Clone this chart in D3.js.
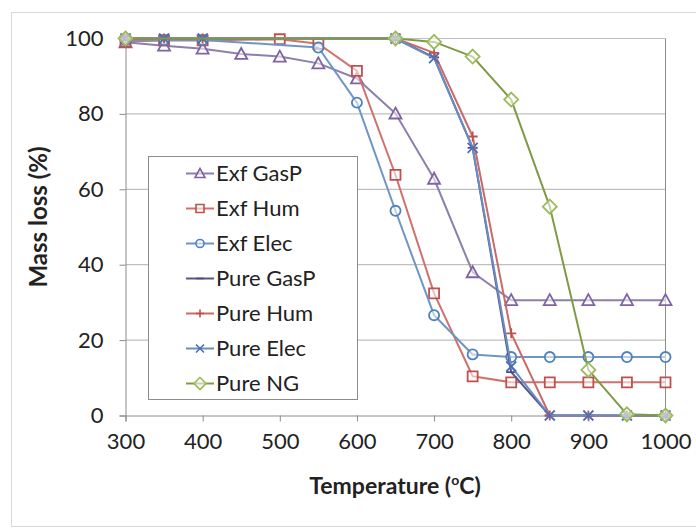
<!DOCTYPE html>
<html>
<head>
<meta charset="utf-8">
<script src="https://cdn.jsdelivr.net/npm/d3@7/dist/d3.min.js"></script>
<style>
  body { margin: 0; background: #fff; }
  svg { display: block; font-family: Lato, "Open Sans", sans-serif; }
</style>
</head>
<body>
<svg width="696" height="532"></svg>
<script>
// series data (temperature in °C, mass loss in %)
const exfGasP_t = [300, 350, 400, 450, 500, 550, 600, 650, 700, 750, 800, 850, 900, 950, 1000];
const exfGasP_v = [99, 98.1, 97.3, 95.9, 95.2, 93.4, 89.4, 80.1, 62.8, 38, 30.6, 30.6, 30.6, 30.6, 30.6];

const exfHum_t = [300, 350, 400, 500, 550, 600, 650, 700, 750, 800, 850, 900, 950, 1000];
const exfHum_v = [99.2, 99.5, 99.5, 99.8, 98.6, 91.4, 63.8, 32.4, 10.4, 8.8, 8.8, 8.8, 8.8, 8.8];

const exfElec_t = [300, 350, 400, 550, 600, 650, 700, 750, 800, 850, 900, 950, 1000];
const exfElec_v = [99.6, 99.6, 99.6, 97.6, 83, 54.3, 26.6, 16.2, 15.5, 15.5, 15.5, 15.5, 15.5];

const pureGasP_t = [300, 350, 400, 650, 700, 750, 800, 850, 900, 950, 1000];
const pureGasP_v = [100, 100, 100, 100, 95, 71, 11.5, 0, 0, 0, 0];

const pureHum_t = [300, 350, 400, 650, 700, 750, 800, 850, 900, 950, 1000];
const pureHum_v = [100, 100, 100, 100, 96.2, 74, 21.8, 0, 0, 0, 0];

const pureElec_t = [300, 350, 400, 650, 700, 750, 800, 850, 900, 950, 1000];
const pureElec_v = [100, 100, 100, 100, 94.8, 71, 13, 0, 0, 0, 0];

const pureNG_t = [300, 650, 700, 750, 800, 850, 900, 950, 1000];
const pureNG_v = [100, 100, 99.1, 95.2, 83.8, 55.4, 12.1, 0.3, 0];

const seriesNames = ["Exf GasP", "Exf Hum", "Exf Elec", "Pure GasP", "Pure Hum", "Pure Elec", "Pure NG"];
const xTicks = [300, 400, 500, 600, 700, 800, 900, 1000];
const yTicks = [0, 20, 40, 60, 80, 100];

const series = [
  { name: seriesNames[0], t: exfGasP_t, v: exfGasP_v, color: "#8064a2", line: "#8d7fae", marker: "triangle" },
  { name: seriesNames[1], t: exfHum_t, v: exfHum_v, color: "#c0504d", line: "#d0716e", marker: "square" },
  { name: seriesNames[2], t: exfElec_t, v: exfElec_v, color: "#4f81bd", line: "#6f95c6", marker: "circle" },
  { name: seriesNames[3], t: pureGasP_t, v: pureGasP_v, color: "#4b4a82", line: "#57568c", marker: "dash" },
  { name: seriesNames[4], t: pureHum_t, v: pureHum_v, color: "#c0504d", line: "#c96a67", marker: "plus" },
  { name: seriesNames[5], t: pureElec_t, v: pureElec_v, color: "#4a6fb5", line: "#6a8cc4", marker: "cross" },
  { name: seriesNames[6], t: pureNG_t, v: pureNG_v, color: "#9bbb59", line: "#7f9a45", marker: "diamond" }
];

const svg = d3.select("svg");

// outer chart frame
svg.append("rect")
  .attr("x", 11.5).attr("y", 12.5)
  .attr("width", 700).attr("height", 514)
  .attr("fill", "#fff")
  .attr("stroke", "#d9d9d9");

const x = d3.scaleLinear().domain([300, 1000]).range([125.5, 665.5]);
const y = d3.scaleLinear().domain([0, 100]).range([415.5, 38.5]);

// gridlines
svg.append("g")
  .selectAll("line")
  .data(yTicks.filter(d => d > 0))
  .join("line")
    .attr("x1", x(300)).attr("x2", x(1000))
    .attr("y1", d => y(d)).attr("y2", d => y(d))
    .attr("stroke", "#bfbfbf")
    .attr("stroke-width", 1.2);

// right edge of the plot area
svg.append("line")
  .attr("x1", x(1000)).attr("x2", x(1000))
  .attr("y1", y(100)).attr("y2", y(0))
  .attr("stroke", "#8c8c8c");

// axes
const xAxis = svg.append("g")
  .attr("transform", `translate(0,${y(0)})`)
  .call(d3.axisBottom(x).tickValues(xTicks).tickSize(6).tickPadding(12).tickFormat(d3.format("d")));
const yAxis = svg.append("g")
  .attr("transform", `translate(${x(300)},0)`)
  .call(d3.axisLeft(y).tickValues(yTicks).tickSize(6).tickPadding(16));

[xAxis, yAxis].forEach(g => {
  g.select(".domain").attr("stroke", "#8c8c8c");
  g.selectAll(".tick line").attr("stroke", "#8c8c8c");
  g.selectAll(".tick text")
    .attr("fill", "#222")
    .attr("font-size", 22)
    .attr("font-family", "Lato, sans-serif");
});

// axis titles
const xTitle = svg.append("text")
  .attr("x", 395).attr("y", 494)
  .attr("text-anchor", "middle")
  .attr("font-size", 23).attr("font-weight", "bold")
  .attr("fill", "#222");
xTitle.append("tspan").text("Temperature (");
xTitle.append("tspan").attr("font-size", 14).attr("dy", -9).text("o");
xTitle.append("tspan").attr("dy", 9).text("C)");

svg.append("text")
  .attr("transform", "translate(47,217) rotate(-90)")
  .attr("text-anchor", "middle")
  .attr("font-size", 24).attr("font-weight", "bold")
  .attr("fill", "#222")
  .text("Mass loss (%)");

// marker shapes
const markerPath = (type, s) => {
  const h = s / 2;
  switch (type) {
    case "triangle": return `M0,${-h - 1}L${h + 1},${h}L${-h - 1},${h}Z`;
    case "square": return `M${-h},${-h}H${h}V${h}H${-h}Z`;
    case "circle": return d3.symbol(d3.symbolCircle, s * s * 0.8)();
    case "diamond": return `M0,${-h - 2}L${h + 2},0L0,${h + 2}L${-h - 2},0Z`;
    case "dash": return `M${-h},0H${h}`;
    case "plus": return `M${-h},0H${h}M0,${-h}V${h}`;
    case "cross": return `M${-h},${-h}L${h},${h}M${-h},${h}L${h},${-h}`;
  }
};
const filled = type => ["triangle", "square", "circle", "diamond"].includes(type);

const line = d3.line().x(d => x(d[0])).y(d => y(d[1]));

series.forEach(s => {
  const pts = s.t.map((t, i) => [t, s.v[i]]);
  const g = svg.append("g");
  g.append("path")
    .attr("d", line(pts))
    .attr("fill", "none")
    .attr("stroke", s.line)
    .attr("stroke-width", 2)
    .attr("stroke-linejoin", "round");
  g.selectAll("path.mk")
    .data(pts)
    .join("path")
      .attr("class", "mk")
      .attr("transform", d => `translate(${x(d[0])},${y(d[1])})`)
      .attr("d", markerPath(s.marker, 10))
      .attr("fill", filled(s.marker) ? "rgba(255,255,255,0.55)" : "none")
      .attr("stroke", s.color)
      .attr("stroke-width", 1.8);
});

// legend
const legend = svg.append("g");
legend.append("rect")
  .attr("x", 148.5).attr("y", 156.5)
  .attr("width", 209).attr("height", 243)
  .attr("fill", "#fff")
  .attr("stroke", "#8c8c8c");

const row = legend.selectAll("g")
  .data(series)
  .join("g")
    .attr("transform", (d, i) => `translate(200,${173.5 + i * 35})`);
row.append("line")
  .attr("x1", -14).attr("x2", 14)
  .attr("stroke", d => d.line)
  .attr("stroke-width", 2);
row.append("path")
  .attr("d", d => markerPath(d.marker, 8))
  .attr("fill", d => filled(d.marker) ? "rgba(255,255,255,0.55)" : "none")
  .attr("stroke", d => d.color)
  .attr("stroke-width", 1.6);
row.append("text")
  .attr("x", 16).attr("dy", "0.35em")
  .attr("font-size", 22)
  .attr("fill", "#222")
  .text(d => d.name);
</script>
</body>
</html>
